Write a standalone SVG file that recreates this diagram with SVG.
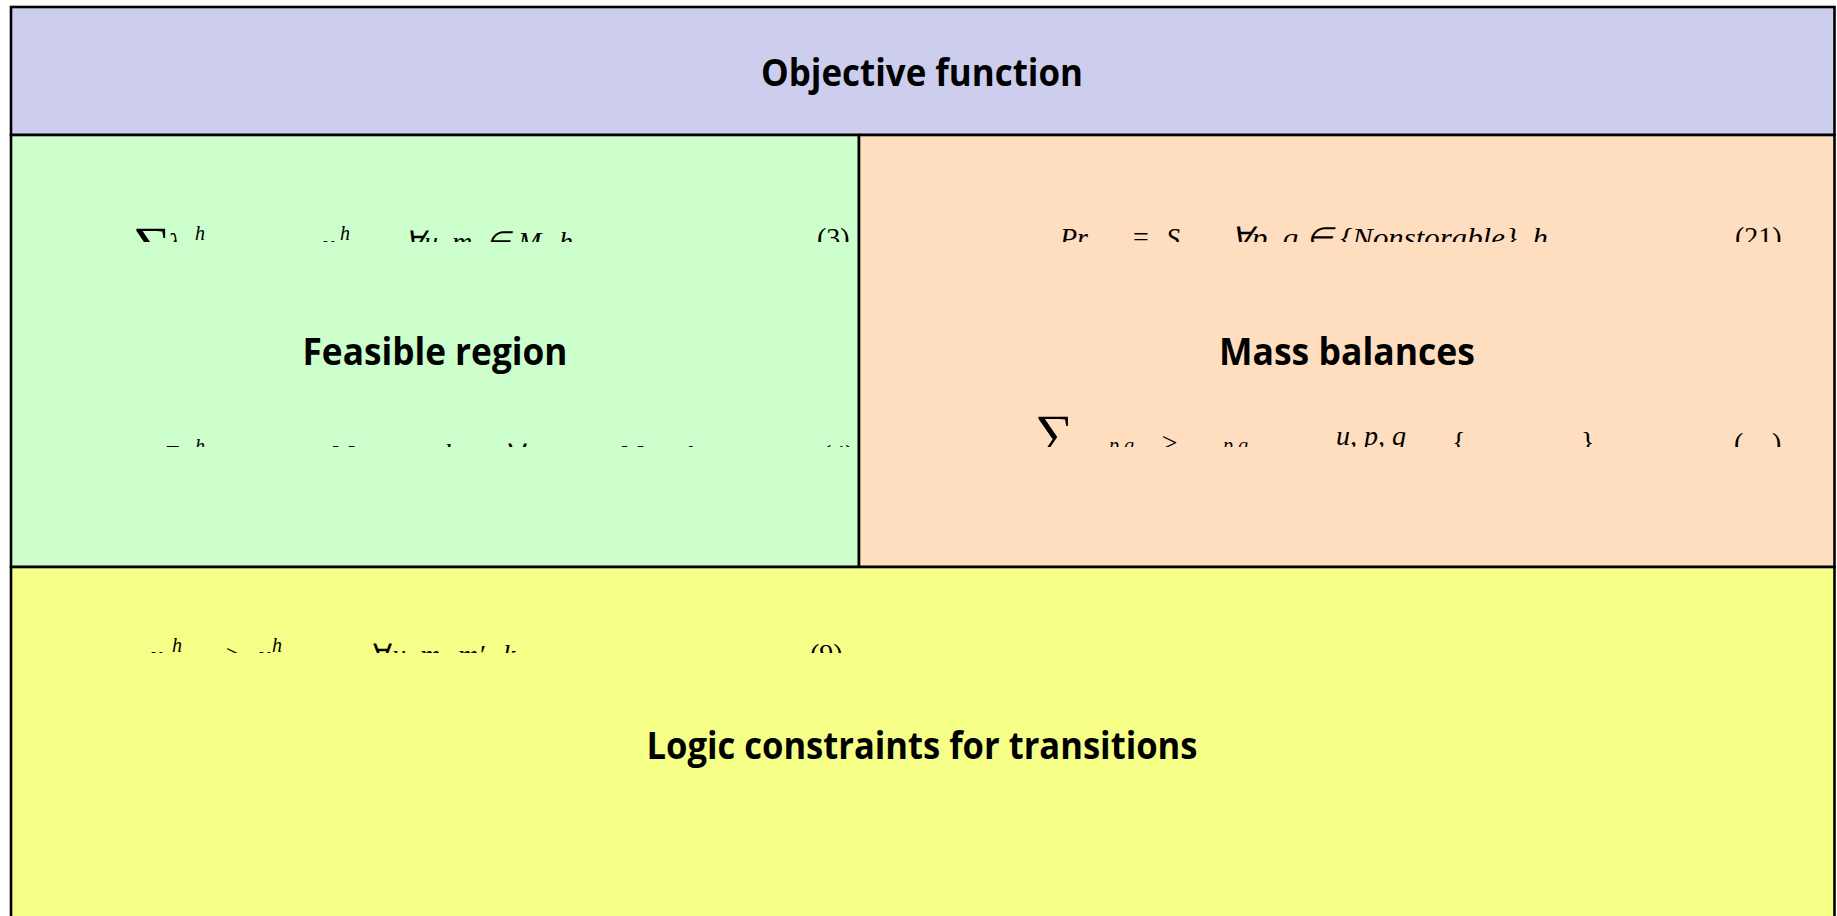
<svg xmlns="http://www.w3.org/2000/svg" width="1837" height="916" viewBox="0 0 1837 916">
<style>
.box{stroke:#000;stroke-width:2.6}
.t{font-family:"Open Sans","Liberation Sans",sans-serif;font-weight:700;font-size:38px;fill:#000}
.m{font-family:"Liberation Serif",serif;font-style:italic;font-size:28px;fill:#000}
.u{font-family:"Liberation Serif",serif;font-size:28px;fill:#000}
.s{font-family:"Liberation Serif",serif;font-style:italic;font-size:20px;fill:#000}
.big{font-family:"Liberation Serif",serif;font-size:54px;fill:#000}
</style>
<defs>
<clipPath id="cA"><rect x="0" y="200" width="1837" height="42"/></clipPath>
<clipPath id="cB"><rect x="0" y="405" width="1837" height="42"/></clipPath>
<clipPath id="cC"><rect x="0" y="620" width="1837" height="33"/></clipPath>
</defs>
<rect width="1837" height="916" fill="#fff"/>
<g id="objective">
<rect class="box" x="11" y="7" width="1823.5" height="128" fill="#CDCEEE"/>
<text class="t" x="922" y="86" text-anchor="middle" textLength="322" lengthAdjust="spacingAndGlyphs">Objective function</text>
</g>
<g id="feasible">
<rect class="box" x="11" y="135" width="848" height="432" fill="#CCFFCC"/>
<g clip-path="url(#cA)">
<text class="big" x="133" y="264" textLength="38" lengthAdjust="spacingAndGlyphs">∑</text>
<text class="m" x="168" y="252">λ</text>
<text class="s" x="195" y="240">h</text>
<text class="m" x="322" y="254">x</text>
<text class="s" x="340" y="240">h</text>
<text class="m" x="405" y="251">∀<tspan x="424">u,</tspan><tspan x="452">m</tspan><tspan class="u" x="486">∈</tspan><tspan x="518">M,</tspan><tspan x="559">h</tspan></text>
<text class="u" x="817" y="247">(3)</text>
</g>
<g clip-path="url(#cB)">
<text class="m" x="163" y="464">Z</text>
<text class="s" x="195" y="453">h</text>
<text class="m" x="330" y="464">M</text>
<text class="m" x="444" y="463">h</text>
<text class="u" x="508" y="464">∀</text>
<text class="m" x="619" y="464">M</text>
<text class="m" x="686" y="465">h</text>
<text class="u" x="822" y="464">(4)</text>
</g>
<text class="t" x="435" y="365" text-anchor="middle" textLength="265" lengthAdjust="spacingAndGlyphs">Feasible region</text>
</g>
<g id="mass">
<rect class="box" x="859" y="135" width="975.5" height="432" fill="#FFDDBF"/>
<g clip-path="url(#cA)">
<text class="m" x="1060" y="247">Pr</text>
<text class="u" x="1133" y="246">=</text>
<text class="m" x="1166" y="247">S</text>
<text class="m" x="1231" y="247" textLength="317" lengthAdjust="spacingAndGlyphs">∀p, q ∈ {Nonstorable}, h</text>
<text class="u" x="1735" y="246">(21)</text>
</g>
<g clip-path="url(#cB)">
<text class="big" x="1035" y="452" textLength="39" lengthAdjust="spacingAndGlyphs">∑</text>
<text class="s" x="1109" y="452">p q</text>
<text class="u" x="1162" y="452">≥</text>
<text class="s" x="1223" y="452">p q</text>
<text class="m" x="1336" y="445">u, p, q</text>
<text class="u" x="1452" y="451">{</text>
<text class="u" x="1581" y="451">}</text>
<text class="u" x="1734" y="452">(</text>
<text class="u" x="1772" y="452">)</text>
</g>
<text class="t" x="1347" y="365" text-anchor="middle" textLength="256" lengthAdjust="spacingAndGlyphs">Mass balances</text>
</g>
<g id="logic">
<rect class="box" x="11" y="567" width="1823.5" height="380" fill="#F5FF88"/>
<g clip-path="url(#cC)">
<text class="m" x="150" y="665">x</text>
<text class="s" x="172" y="652">h</text>
<text class="u" x="226" y="664">≥</text>
<text class="m" x="258" y="665">x</text>
<text class="s" x="272" y="652">h</text>
<text class="u" x="373" y="664">∀</text>
<text class="m" x="392" y="664">u,</text>
<text class="m" x="420" y="664">m,</text>
<text class="m" x="458" y="664">m′,</text>
<text class="m" x="503" y="664">k</text>
<text class="u" x="810" y="663">(9)</text>
</g>
<text class="t" x="922" y="759" text-anchor="middle" textLength="551" lengthAdjust="spacingAndGlyphs">Logic constraints for transitions</text>
</g>
<g id="connectors"/>
</svg>
